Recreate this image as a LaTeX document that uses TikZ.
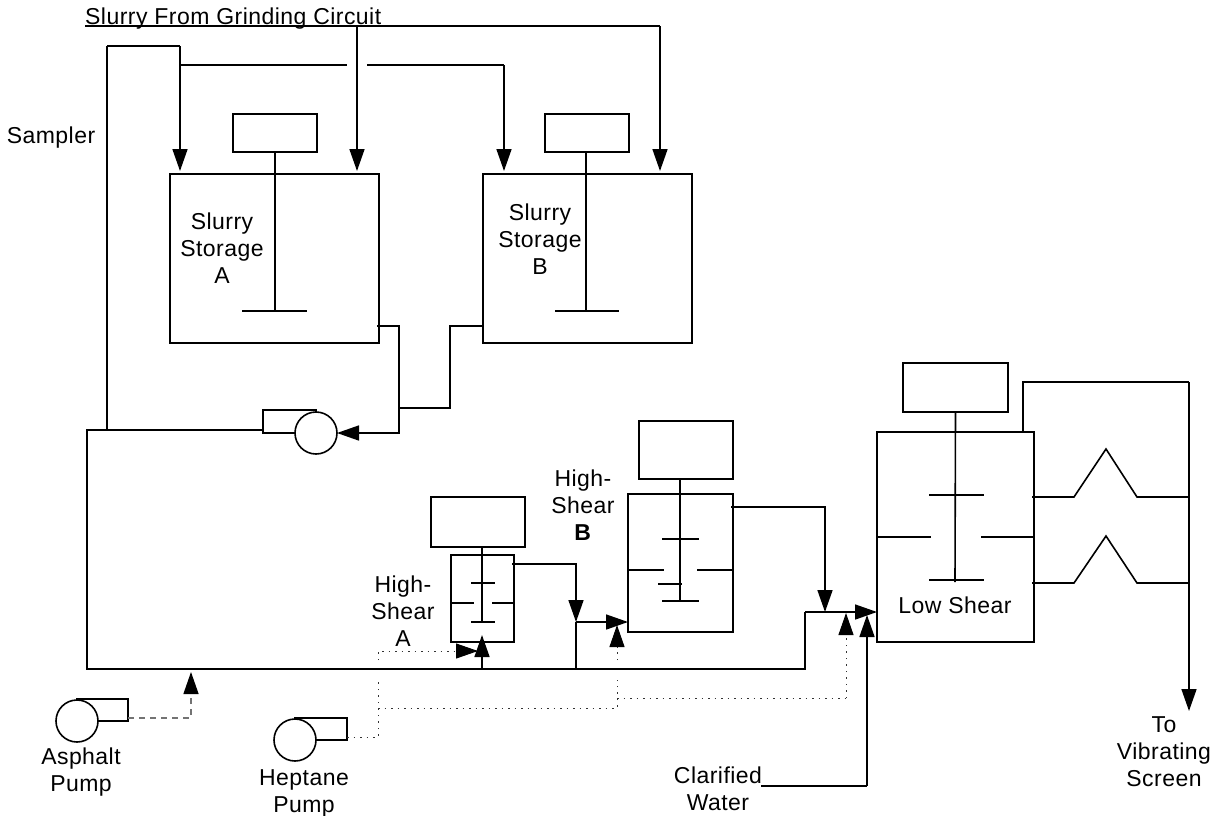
\documentclass[tikz,border=0pt]{standalone}
\usepackage{fontspec}
\setmainfont[LetterSpace=2]{Liberation Sans}
\usetikzlibrary{arrows.meta, calc}
\tikzset{
    vessel/.style={draw, line width=1.6pt, outer sep=0pt, inner sep=0pt},
    motor/.style={draw, line width=1.6pt, outer sep=0pt, inner sep=0pt},
    casing/.style={draw, line width=1.6pt, outer sep=0pt, inner sep=0pt},
    impeller/.style={circle, draw, fill=white, line width=1.6pt, minimum size=42pt, outer sep=0pt, inner sep=0pt},
    label/.style={align=center, font=\fontsize{23}{27}\selectfont, inner sep=0pt},
    pipe/.style={line width=1.6pt},
    arr/.style={-{Triangle[length=22pt,width=15pt]}, line width=1.6pt},
    blade/.style={line width=1.4pt},
    dotline/.style={line width=1pt, black!80, dash pattern=on 1.5pt off 5pt},
    dotarr/.style={dotline, -{Triangle[length=22pt,width=15pt,black]}},
    dasharr/.style={line width=1.3pt, black!55, dash pattern=on 6pt off 5pt, -{Triangle[length=22pt,width=15pt,black]}}
}
\begin{document}
\begin{tikzpicture}[x=1pt, y=-1pt]
    \useasboundingbox (0,0) rectangle (1219,815);

    % storage tanks
    \node[vessel, minimum width=209pt, minimum height=169pt] (tankA) at (274.5,258.5) {};
    \node[motor, minimum width=84pt, minimum height=38pt] (motorA) at (275,133) {};
    \node[vessel, minimum width=209pt, minimum height=169pt] (tankB) at (587.5,258.5) {};
    \node[motor, minimum width=84pt, minimum height=38pt] (motorB) at (587,133) {};
    \coordinate (bladeA) at (275,311);
    \coordinate (bladeB) at (586,311);
    \draw[pipe] (motorA.south) -- (bladeA);
    \draw[pipe] (motorB.south -| bladeB) -- (bladeB);
    \draw[blade] (242,311) -- (307,311);
    \draw[blade] (555,311) -- (619,311);

    % high shear A
    \node[vessel, minimum width=63pt, minimum height=87pt] (shearA) at (482.5,598.5) {};
    \node[motor, minimum width=94pt, minimum height=50pt] (motorC) at (478,522) {};
    \coordinate (bladeC) at (482,623);
    \draw[pipe] (motorC.south -| bladeC) -- (bladeC);
    \draw[blade] (471,583) -- (495,583);
    \draw[blade] (450,603) -- (474,603);
    \draw[blade] (492,603) -- (514,603);
    \draw[blade] (471,622) -- (495,622);

    % high shear B
    \node[vessel, minimum width=105pt, minimum height=138pt] (shearB) at (680.5,563) {};
    \node[motor, minimum width=94pt, minimum height=58pt] (motorD) at (686,450) {};
    \coordinate (bladeD) at (680,602);
    \draw[pipe] (motorD.south -| bladeD) -- (bladeD);
    \draw[blade] (662,539) -- (699,539);
    \draw[blade] (628,570) -- (664,570);
    \draw[blade] (697,570) -- (733,570);
    \draw[blade] (658,584) -- (682,584);
    \draw[blade] (662,601) -- (699,601);

    % low shear
    \node[vessel, minimum width=157pt, minimum height=210pt] (lowshear) at (955.5,537) {};
    \node[motor, minimum width=105pt, minimum height=49pt] (motorE) at (955.5,387.5) {};
    \coordinate (bladeE) at (955,582);
    \draw[pipe] (motorE.south) -- (bladeE);
    \draw[blade] (929,495) -- (984,495);
    \draw[blade] (876,537) -- (931,537);
    \draw[blade] (981,537) -- (1035,537);
    \draw[blade] (929,580) -- (984,580);

    % pumps
    \node[casing, minimum width=53pt, minimum height=23pt] (casingS) at (289.5,421.5) {};
    \node[impeller] (pumpS) at (316,433) {};
    \node[casing, minimum width=51pt, minimum height=22pt] (casingAs) at (102.5,710) {};
    \node[impeller] (pumpAs) at (77,721) {};
    \node[casing, minimum width=52pt, minimum height=22pt] (casingHe) at (321,729) {};
    \node[impeller] (pumpHe) at (295,740) {};

    % slurry feed
    \coordinate (feedstart) at (85,26);
    \coordinate (feedmid) at (357,26);
    \coordinate (feedend) at (660,26);
    \draw[pipe] (feedstart) -- (feedend);
    \draw[arr] (feedmid) -- (feedmid |- 0,171);
    \draw[arr] (feedend) -- (feedend |- 0,171);
    \coordinate (samplertop) at (107,46);
    \coordinate (branch) at (180,65);
    \coordinate (recycleB) at (504,65);
    \draw[pipe] (samplertop) -- (samplertop -| branch);
    \draw[arr] (samplertop -| branch) -- (branch |- 0,171);
    \draw[pipe] (branch) -- (347,65);
    \draw[pipe] (367,65) -- (recycleB);
    \draw[arr] (recycleB) -- (recycleB |- 0,171);

    % tank outlets to pump
    \coordinate (outA) at (399,326);
    \coordinate (outB) at (450,326);
    \draw[arr] (377,326) -- (outA) -- (outA |- pumpS.east) -- (pumpS.east);
    \draw[pipe] (tankB.west |- outB) -- (outB) -- (450,408) -- (399,408);

    % main line
    \coordinate (mainleft) at (87,430);
    \coordinate (mainbottom) at (87,669);
    \coordinate (mainstep) at (805,669);
    \coordinate (mainin) at (805,612);
    \draw[pipe] (casingS.west |- mainleft) -- (mainleft) -- (mainbottom) -- (mainstep) -- (mainin);
    \draw[arr] (mainin) -- (mainin -| lowshear.west);
    \draw[pipe] (samplertop) -- (samplertop |- mainleft);

    % high shear links
    \coordinate (teeA) at (482,669);
    \coordinate (outC) at (576,564);
    \coordinate (teeB) at (576,622);
    \coordinate (outD) at (825,507);
    \draw[arr] (teeA) -- (482,635);
    \draw[arr] (512,564) -- (outC) -- (teeB);
    \draw[pipe] (teeB) -- (576,669);
    \draw[arr] (teeB) -- (teeB -| shearB.west);
    \draw[arr] (731,507) -- (outD) -- (825,612);

    % water
    \coordinate (waterstart) at (761,786);
    \coordinate (waterturn) at (867,786);
    \draw[pipe] (waterstart) -- (waterturn);
    \draw[arr] (waterturn) -- (867,615);

    % product out
    \coordinate (prodtop) at (1023,382);
    \coordinate (prodright) at (1189,382);
    \draw[pipe] (1023,431) -- (prodtop) -- (prodright);
    \draw[arr] (prodright) -- (1189,711);
    \draw[pipe] (1032,497) -- (1074,497) -- (1106,449) -- (1137,497) -- (prodright |- 0,497);
    \draw[pipe] (1032,583) -- (1074,583) -- (1106,536) -- (1137,583) -- (prodright |- 0,583);

    % asphalt and heptane
    \coordinate (asphaltturn) at (191,718);
    \draw[dasharr] (casingAs.east |- asphaltturn) -- (asphaltturn) -- (191,672);
    \coordinate (heptturn) at (378,737);
    \coordinate (heptjoin) at (378,708);
    \coordinate (heptmid) at (617,708);
    \coordinate (heptwater) at (846,698);
    \draw[dotline] (casingHe.east |- heptturn) -- (heptturn) -- (378,682);
    \draw[dotline] (heptjoin) -- (heptmid) -- (617,680);
    \draw[dotline] (617,698) -- (heptwater);
    \draw[dotarr] (heptwater) -- (846,613);
    \draw[dotarr] (617,660) -- (617,625);
    \draw[dotarr] (378,660) -- (378,651) -- (478,651);

    % labels
    \node[label, anchor=base west] (feedlabel) at (85,24) {Slurry From Grinding Circuit};
    \node[label] (samplerlabel) at (51,138) {Sampler};
    \node[label] (storageA) at (222,248) {Slurry\\Storage\\A};
    \node[label] (storageB) at (540,239) {Slurry\\Storage\\B};
    \node[label] (labelC) at (403,611) {High-\\Shear\\A};
    \node[label] (labelD) at (583,505) {High-\\Shear\\\textbf{B}};
    \node[label] (labelE) at (955,605) {Low Shear};
    \node[label] (asphaltlabel) at (81,772) {Asphalt\\Pump};
    \node[label] (heptanelabel) at (304,793) {Heptane\\Pump};
    \node[label] (waterlabel) at (718,789) {Clarified\\Water};
    \node[label] (screenlabel) at (1164,752) {To\\Vibrating\\Screen};
\end{tikzpicture}
\end{document}
